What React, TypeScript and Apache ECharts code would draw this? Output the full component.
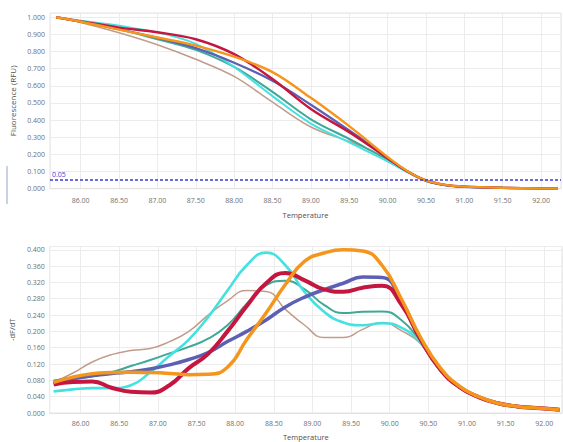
import React, { useEffect, useRef } from "react";
import * as echarts from "echarts";

// Top chart: normalized melt curves
const meltTemps = [85.68, 86.0, 86.5, 87.0, 87.5, 88.0, 88.5, 89.0, 89.5, 89.75, 90.0, 90.25, 90.5, 90.75, 91.0, 91.5, 92.0, 92.22];
const meltOrange = [1.0, 0.974, 0.928, 0.882, 0.835, 0.77, 0.68, 0.53, 0.365, 0.275, 0.185, 0.105, 0.048, 0.022, 0.012, 0.005, 0.002, 0.001];
const meltRed = [1.0, 0.976, 0.94, 0.913, 0.872, 0.785, 0.64, 0.465, 0.33, 0.255, 0.178, 0.103, 0.048, 0.022, 0.012, 0.005, 0.002, 0.001];
const meltBlue = [1.0, 0.974, 0.93, 0.88, 0.82, 0.735, 0.63, 0.49, 0.34, 0.262, 0.178, 0.103, 0.047, 0.021, 0.011, 0.005, 0.002, 0.001];
const meltTeal = [1.0, 0.974, 0.93, 0.872, 0.81, 0.71, 0.565, 0.405, 0.29, 0.23, 0.168, 0.1, 0.046, 0.021, 0.011, 0.005, 0.002, 0.001];
const meltCyan = [1.0, 0.98, 0.95, 0.912, 0.845, 0.71, 0.54, 0.38, 0.27, 0.215, 0.16, 0.098, 0.045, 0.02, 0.011, 0.005, 0.002, 0.001];
const meltBrown = [1.0, 0.97, 0.91, 0.84, 0.755, 0.655, 0.505, 0.36, 0.275, 0.23, 0.17, 0.1, 0.045, 0.02, 0.011, 0.005, 0.002, 0.001];
const threshold = 0.05;

// Bottom chart: derivative curves
const derivTemps = [85.65, 85.9, 86.15, 86.4, 86.65, 86.9, 87.15, 87.4, 87.65, 87.9, 88.15, 88.4, 88.65, 88.9, 89.15, 89.4, 89.65, 89.9, 90.15, 90.4, 90.65, 90.9, 91.15, 91.4, 91.65, 91.9, 92.2];
const derivOrange = [0.075, 0.088, 0.096, 0.099, 0.1, 0.099, 0.097, 0.094, 0.095, 0.112, 0.18, 0.245, 0.315, 0.372, 0.392, 0.4, 0.397, 0.362, 0.28, 0.185, 0.112, 0.066, 0.04, 0.024, 0.016, 0.012, 0.008];
const derivRed = [0.07, 0.076, 0.077, 0.062, 0.052, 0.05, 0.068, 0.11, 0.145, 0.2, 0.262, 0.318, 0.343, 0.325, 0.303, 0.297, 0.307, 0.312, 0.266, 0.18, 0.108, 0.064, 0.039, 0.024, 0.016, 0.012, 0.008];
const derivBlue = [0.077, 0.085, 0.091, 0.097, 0.101, 0.108, 0.118, 0.131, 0.148, 0.175, 0.2, 0.228, 0.26, 0.284, 0.302, 0.318, 0.333, 0.332, 0.275, 0.18, 0.108, 0.064, 0.039, 0.024, 0.016, 0.012, 0.008];
const derivCyan = [0.053, 0.058, 0.061, 0.061, 0.068, 0.1, 0.14, 0.18, 0.235, 0.3, 0.362, 0.393, 0.362, 0.296, 0.248, 0.222, 0.215, 0.22, 0.209, 0.172, 0.106, 0.063, 0.039, 0.024, 0.016, 0.012, 0.008];
const derivTeal = [0.073, 0.082, 0.09, 0.1, 0.115, 0.13, 0.146, 0.162, 0.182, 0.215, 0.268, 0.313, 0.324, 0.303, 0.265, 0.245, 0.248, 0.249, 0.228, 0.175, 0.107, 0.064, 0.039, 0.024, 0.016, 0.012, 0.008];
const derivBrown = [0.075, 0.098, 0.125, 0.143, 0.153, 0.158, 0.175, 0.2, 0.24, 0.275, 0.3, 0.298, 0.254, 0.215, 0.185, 0.185, 0.205, 0.222, 0.202, 0.17, 0.105, 0.063, 0.039, 0.024, 0.016, 0.012, 0.008];

const xTitle = "Temperature";
const yTitleTop = "Fluorescence (RFU)";
const yTitleBottom = "-dF/dT";

const COLORS = {
  orange: "#f4951c",
  red: "#c4163f",
  blue: "#5c60b4",
  cyan: "#45e0e0",
  teal: "#3fa896",
  brown: "#c29c8a",
};

const FONT = "Open Sans";

function pairs(xs: number[], ys: number[]) {
  return xs.map((x, i) => [x, ys[i]]);
}

export default function App() {
  const ref = useRef<HTMLDivElement>(null);
  useEffect(() => {
    if (!ref.current) return;
    const chart = echarts.init(ref.current, undefined, { renderer: "svg" });
    const axisLabel = { color: "#707070", fontSize: 7, fontFamily: FONT };
    const splitLine = { show: true, lineStyle: { color: "#ececec", width: 1 } };
    const xAxisBase = (gridIndex: number, margin: number, nameGap: number, max: number) => ({
      type: "value",
      gridIndex,
      min: 85.6,
      max,
      splitNumber: 13,
      minInterval: 0.5,
      maxInterval: 0.5,
      name: xTitle,
      nameLocation: "middle",
      nameGap,
      nameTextStyle: { color: "#505050", fontSize: 7.5, fontFamily: FONT },
      axisLine: { show: true, lineStyle: { color: "#e2e2e2" } },
      axisTick: { show: false },
      axisLabel: {
        ...axisLabel,
        margin,
        showMinLabel: false,
        showMaxLabel: false,
        formatter: (v: number) => v.toFixed(2),
      },
      splitLine,
    });
    const mk = (name: string, xs: number[], ys: number[], color: string, width: number, idx: number, smooth: number, extra: any = {}) => ({
      name,
      type: "line",
      xAxisIndex: idx,
      yAxisIndex: idx,
      data: pairs(xs, ys),
      smooth,
      showSymbol: false,
      symbol: "none",
      lineStyle: { color, width },
      itemStyle: { color },
      ...extra,
    });

    chart.setOption({
      animation: false,
      backgroundColor: "#ffffff",
      grid: [
        { left: 48, right: 2, top: 13, height: 175.7, containLabel: false, show: true, borderColor: "#e2e2e2", borderWidth: 1 },
        { left: 48, right: 1, top: 246.5, height: 170.8, containLabel: false, show: true, borderColor: "#e2e2e2", borderWidth: 1 },
      ],
      xAxis: [xAxisBase(0, 8, 22, 92.26), xAxisBase(1, 7, 20, 92.23)],
      yAxis: [
        {
          type: "value",
          gridIndex: 0,
          min: 0,
          max: 1.025,
          interval: 0.1,
          name: yTitleTop,
          nameLocation: "middle",
          nameGap: 34,
          nameTextStyle: { color: "#505050", fontSize: 8, fontFamily: FONT },
          axisLine: { show: false },
          axisTick: { show: false },
          axisLabel: { ...axisLabel, margin: 5, showMaxLabel: false, formatter: (v: number) => v.toFixed(3) },
          splitLine,
        },
        {
          type: "value",
          gridIndex: 1,
          min: 0,
          max: 0.408,
          interval: 0.04,
          name: yTitleBottom,
          nameLocation: "middle",
          nameGap: 33,
          nameTextStyle: { color: "#505050", fontSize: 7.5, fontFamily: FONT },
          axisLine: { show: false },
          axisTick: { show: false },
          axisLabel: { ...axisLabel, margin: 5, showMaxLabel: false, formatter: (v: number) => v.toFixed(3) },
          splitLine,
        },
      ],
      series: [
        mk("Brown", meltTemps, meltBrown, COLORS.brown, 1.5, 0, 0.35),
        mk("Teal", meltTemps, meltTeal, COLORS.teal, 2, 0, 0.35),
        mk("Cyan", meltTemps, meltCyan, COLORS.cyan, 2, 0, 0.35),
        mk("Blue", meltTemps, meltBlue, COLORS.blue, 2.2, 0, 0.35),
        mk("Red", meltTemps, meltRed, COLORS.red, 2.4, 0, 0.35),
        mk("Orange", meltTemps, meltOrange, COLORS.orange, 2.4, 0, 0.35, {
          markLine: {
            silent: true,
            symbol: "none",
            lineStyle: { color: "#3a3ad8", type: [3, 2], width: 1.5 },
            label: {
              show: true,
              position: "insideStartTop",
              formatter: "0.05",
              color: "#3a3ad8",
              fontSize: 7,
              fontFamily: FONT,
              distance: [2, 2],
            },
            data: [{ yAxis: threshold }],
          },
        }),
        mk("Brown", derivTemps, derivBrown, COLORS.brown, 1.5, 1, 0.5),
        mk("Teal", derivTemps, derivTeal, COLORS.teal, 2, 1, 0.5),
        mk("Cyan", derivTemps, derivCyan, COLORS.cyan, 2.6, 1, 0.5),
        mk("Blue", derivTemps, derivBlue, COLORS.blue, 3.5, 1, 0.5),
        mk("Red", derivTemps, derivRed, COLORS.red, 4, 1, 0.5),
        mk("Orange", derivTemps, derivOrange, COLORS.orange, 3.5, 1, 0.5),
      ],
      graphic: [
        {
          type: "line",
          shape: { x1: 7, y1: 166, x2: 7, y2: 204 },
          style: { stroke: "#b8c0dc", lineWidth: 1.5 },
        },
      ],
    });
    return () => chart.dispose();
  }, []);
  return (
    <div
      ref={ref}
      style={{ position: "fixed", left: 0, top: 0, width: 563, height: 442, background: "#fff" }}
    />
  );
}
